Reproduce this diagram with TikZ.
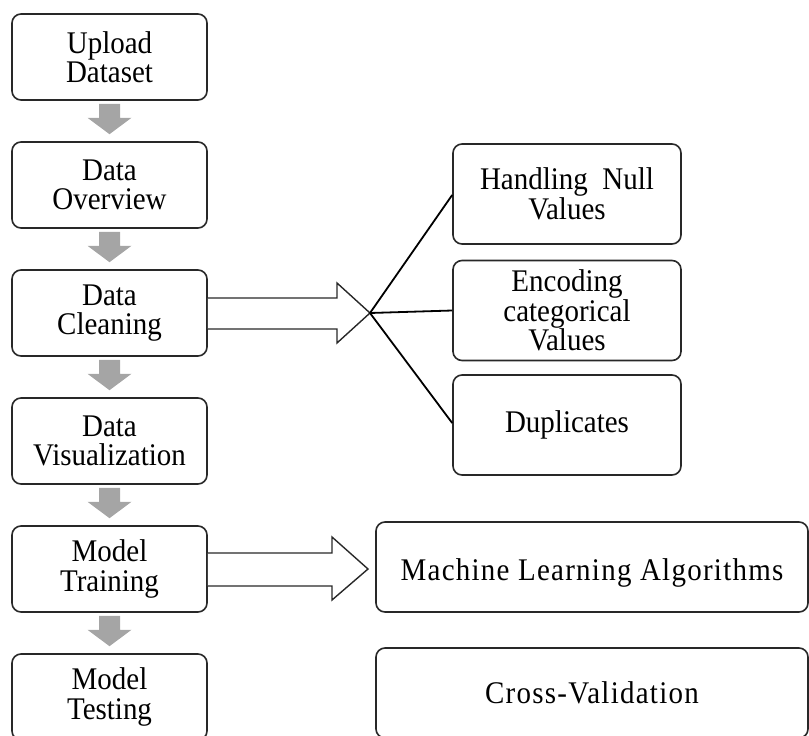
\documentclass[tikz,border=0pt]{standalone}
\usepackage{fontspec}
\setmainfont{Liberation Serif}
\newfontfamily\diagfont[FakeStretch=0.92]{Liberation Serif}
\newfontfamily\widefont[FakeStretch=0.92,LetterSpace=4]{Liberation Serif}
\usetikzlibrary{calc}
\definecolor{boxline}{RGB}{40,40,40}
\definecolor{flowgray}{RGB}{165,165,165}
\tikzset{
  box/.style={draw=boxline, line width=1.6pt, rounded corners=9pt, fill=white,
    align=center, inner sep=0pt, font=\diagfont\fontsize{31.5}{29.5}\selectfont},
  leftbox/.style={box, minimum width=195pt, minimum height=86pt},
  rightbox/.style={box, minimum width=228pt, minimum height=100pt},
  widebox/.style={box, minimum width=432pt, minimum height=90pt,
    font=\widefont\fontsize{31.5}{29.5}\selectfont},
  grayarrow/.style={fill=flowgray, draw=none},
  hollowarrow/.style={draw=boxline, line width=1.4pt, fill=white, line join=miter},
  fanline/.style={draw=black, line width=1.8pt}
}
\newcommand{\flowarrow}[2]{%
  \fill[grayarrow] ($(#1.south)+(-10.5,3)$) -- ($(#1.south)+(10.5,3)$) --
    ($(#1.south)+(10.5,17)$) -- ($(#1.south)+(22,17)$) --
    ($(#2.north)+(0,-7)$) -- ($(#1.south)+(-22,17)$) --
    ($(#1.south)+(-10.5,17)$) -- cycle;}
\begin{document}
\begin{tikzpicture}[x=1pt,y=-1pt]
\useasboundingbox (0,0) rectangle (809,736);
% left column
\node[leftbox] (up) at (109.5,57) {Upload\\Dataset};
\node[leftbox] (ov) at (109.5,185) {Data\\Overview};
\node[leftbox] (cl) at (109.5,313) {Data\\Cleaning};
\node[leftbox] (vi) at (109.5,441) {Data\\Visualization};
\node[leftbox] (tr) at (109.5,569) {Model\\Training};
\node[leftbox] (te) at (109.5,697) {Model\\Testing};
% right column
\node[rightbox] (hn) at (567,194) {Handling\ \ Null\\Values};
\node[rightbox] (en) at (567,310.5) {Encoding\\categorical\\Values};
\node[rightbox] (du) at (567,425) {Duplicates};
\node[widebox, text height=34pt, text depth=7pt] (ml) at (592,567) {Machine Learning Algorithms};
\node[widebox] (cv) at (592,693) {Cross-Validation};
% gray flow arrows
\flowarrow{up}{ov}
\flowarrow{ov}{cl}
\flowarrow{cl}{vi}
\flowarrow{vi}{tr}
\flowarrow{tr}{te}
% hollow arrow from Data Cleaning
\coordinate (fan) at (370,313);
\draw[hollowarrow] ($(cl.east)+(0,-15)$) -- (337,298) -- (337,283) -- (fan)
  -- (337,343) -- (337,329) -- ($(cl.east)+(0,16)$);
\draw[fanline] (fan) -- ($(hn.west)+(0,1)$);
\draw[fanline] (fan) -- (en.west);
\draw[fanline] (fan) -- ($(du.west)+(0,-2)$);
% hollow arrow from Model Training
\coordinate (mltip) at (368,569);
\draw[hollowarrow] ($(tr.east)+(0,-16)$) -- (332,553) -- (332,537) -- (mltip)
  -- (332,600) -- (332,586) -- ($(tr.east)+(0,17)$);
\end{tikzpicture}
\end{document}
